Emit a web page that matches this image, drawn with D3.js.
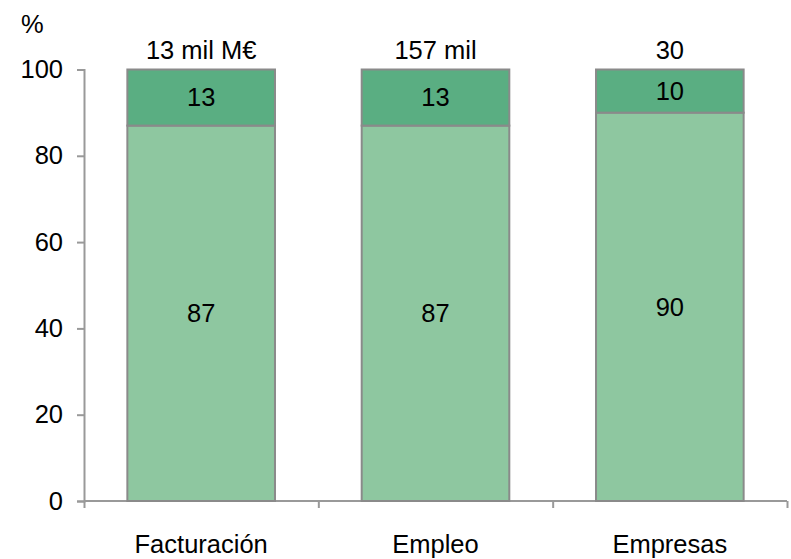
<!DOCTYPE html>
<html lang="es">
<head>
<meta charset="utf-8">
<title>Distribución %</title>
<script src="https://cdn.jsdelivr.net/npm/d3@7"></script>
<style>
  body { margin: 0; background: #fff; }
  text { font-family: "Liberation Sans", Arial, sans-serif; fill: #000; }
</style>
</head>
<body>
<script>
// data
var categories = ["Facturación", "Empleo", "Empresas"];
var lowerShare = [87, 87, 90];
var upperShare = [13, 13, 10];
var totals = ["13 mil M€", "157 mil", "30"];
var yTicks = [0, 20, 40, 60, 80, 100];

var width = 791, height = 559;
var margin = { top: 69.5, right: 4, bottom: 58, left: 84 };
var plotW = width - margin.left - margin.right;
var plotH = height - margin.top - margin.bottom;
var fs = "25.5px";

var svg = d3.select("body").append("svg")
    .attr("width", width)
    .attr("height", height);

var g = svg.append("g")
    .attr("transform", "translate(" + margin.left + "," + margin.top + ")");

var x = d3.scaleBand().domain(categories).range([0, plotW]).padding(0);
var xEdge = d3.scaleLinear().domain([0, categories.length]).range([0, plotW]);
var y = d3.scaleLinear().domain([0, 100]).range([plotH, 0]);

var barW = x.bandwidth() * 0.63;
var lowColor = "#8ec7a0", highColor = "#5aae82", edge = "#8a8a8a";

// y axis
var yAxis = g.append("g")
    .call(d3.axisLeft(y).tickValues(yTicks).tickSize(7).tickPadding(14));
yAxis.select(".domain").attr("stroke", "#999").attr("stroke-width", 2);
yAxis.selectAll(".tick line").attr("stroke", "#999").attr("stroke-width", 2);
yAxis.selectAll(".tick text").style("font-size", fs).attr("fill", "#000");

// x axis: tick marks between categories
var xAxis = g.append("g")
    .attr("transform", "translate(0," + plotH + ")")
    .call(d3.axisBottom(xEdge).ticks(3).tickSize(7).tickFormat(""));
xAxis.select(".domain").attr("stroke", "#999").attr("stroke-width", 2)
    .attr("d", "M0,0H" + plotW);
xAxis.selectAll(".tick line").attr("stroke", "#999").attr("stroke-width", 2);

g.selectAll(".cat")
    .data(categories)
    .enter().append("text")
    .attr("class", "cat")
    .attr("x", function(d) { return x(d) + x.bandwidth() / 2; })
    .attr("y", plotH + 52)
    .attr("text-anchor", "middle")
    .style("font-size", fs)
    .text(function(d) { return d; });

// stacked bars
var rows = categories.map(function(c, i) {
    return { cat: c, low: lowerShare[i], high: upperShare[i], total: totals[i] };
});

var bars = g.selectAll(".bar").data(rows).enter().append("g")
    .attr("class", "bar")
    .attr("transform", function(d) {
        return "translate(" + (x(d.cat) + (x.bandwidth() - barW) / 2) + ",0)";
    });

bars.append("rect")
    .attr("y", function(d) { return y(d.low); })
    .attr("width", barW)
    .attr("height", function(d) { return y(0) - y(d.low); })
    .attr("fill", lowColor)
    .attr("stroke", edge)
    .attr("stroke-width", 2);

bars.append("rect")
    .attr("y", function(d) { return y(d.low + d.high); })
    .attr("width", barW)
    .attr("height", function(d) { return y(d.low) - y(d.low + d.high); })
    .attr("fill", highColor)
    .attr("stroke", edge)
    .attr("stroke-width", 2);

bars.append("text")
    .attr("x", barW / 2)
    .attr("y", function(d) { return y(d.low / 2); })
    .attr("dy", "0.35em")
    .attr("text-anchor", "middle")
    .style("font-size", fs)
    .text(function(d) { return d.low; });

bars.append("text")
    .attr("x", barW / 2)
    .attr("y", function(d) { return y(d.low + d.high / 2); })
    .attr("dy", "0.35em")
    .attr("text-anchor", "middle")
    .style("font-size", fs)
    .text(function(d) { return d.high; });

bars.append("text")
    .attr("x", barW / 2)
    .attr("y", function(d) { return y(d.low + d.high) - 11; })
    .attr("text-anchor", "middle")
    .style("font-size", fs)
    .text(function(d) { return d.total; });

// unit label
svg.append("text")
    .attr("x", 21)
    .attr("y", 33)
    .style("font-size", fs)
    .text("%");
</script>
</body>
</html>
